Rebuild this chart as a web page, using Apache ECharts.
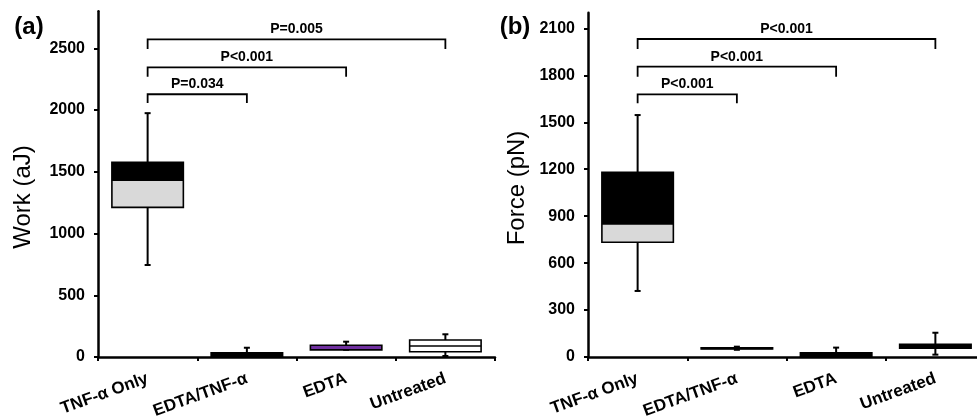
<!DOCTYPE html>
<html>
<head>
<meta charset="utf-8">
<script src="https://cdn.jsdelivr.net/npm/echarts@6/dist/echarts.min.js"></script>
<style>
html,body{margin:0;padding:0;background:#fff;}
#chart{width:977px;height:416px;}
</style>
</head>
<body>
<div id="chart"></div>
<script>
const categories = ['TNF-α Only', 'EDTA/TNF-α', 'EDTA', 'Untreated'];

// Panel (a) Work (aJ): whisker low, Q1, median, Q3, whisker high
const workLow    = [745, 0, 58, 8];
const workQ1     = [1212, 3, 58, 43];
const workMedian = [1431, 10, 77, 89];
const workQ3     = [1577, 35, 95, 138];
const workHigh   = [1975, 75, 124, 184];

// Panel (b) Force (pN)
const forceLow    = [422, 46, 0, 15];
const forceQ1     = [733, 52, 3, 57];
const forceMedian = [850, 55, 15, 70];
const forceQ3     = [1180, 58, 27, 81];
const forceHigh   = [1546, 66, 60, 155];

const workTicks  = [0, 500, 1000, 1500, 2000, 2500];
const forceTicks = [0, 300, 600, 900, 1200, 1500, 1800, 2100];

// Significance brackets: from category, to category, bracket level, leg end, label
const workBracketFrom  = [0, 0, 0];
const workBracketTo    = [1, 2, 3];
const workBracketTop   = [2128, 2346, 2573];
const workBracketLeg   = [2057, 2270, 2495];
const workBracketText  = ['P=0.034', 'P<0.001', 'P=0.005'];

const forceBracketFrom = [0, 0, 0];
const forceBracketTo   = [1, 2, 3];
const forceBracketTop  = [1678, 1855, 2032];
const forceBracketLeg  = [1621, 1791, 1968];
const forceBracketText = ['P<0.001', 'P<0.001', 'P<0.001'];

// Fill colours (upper half = median..Q3, lower half = Q1..median)
const workUpperFill  = ['#000000', '#000000', '#7030a0', '#ffffff'];
const workLowerFill  = ['#d9d9d9', '#000000', '#7030a0', '#ffffff'];
const workMedianLine = ['#000000', '#000000', '#7030a0', '#000000'];
const forceUpperFill = ['#000000', '#000000', '#000000', '#000000'];
const forceLowerFill = ['#d9d9d9', '#000000', '#000000', '#000000'];
const forceMedianLine = ['#000000', '#000000', '#000000', '#000000'];

const FONT = '"Liberation Sans", Arial, sans-serif';

function boxData(lo, q1, md, q3, hi) {
  return categories.map((c, i) => [i, lo[i], q1[i], md[i], q3[i], hi[i]]);
}
function bracketData(from, to, top, leg) {
  return from.map((f, i) => [f, to[i], top[i], leg[i]]);
}

function makeBoxRender(upper, lower, medCol) {
  return function (params, api) {
    const i = api.value(0);
    const pLo = api.coord([i, api.value(1)]);
    const pQ1 = api.coord([i, api.value(2)]);
    const pMd = api.coord([i, api.value(3)]);
    const pQ3 = api.coord([i, api.value(4)]);
    const pHi = api.coord([i, api.value(5)]);
    const bw = api.size([1, 0])[0] * 0.72;
    const cx = pMd[0];
    const x0 = cx - bw / 2;
    const capW = 6;
    const lineStyle = { stroke: '#000', lineWidth: 2, fill: null };
    return {
      type: 'group',
      children: [
        { type: 'line', shape: { x1: cx, y1: pLo[1], x2: cx, y2: pHi[1] }, style: lineStyle },
        { type: 'line', shape: { x1: cx - capW / 2, y1: pLo[1], x2: cx + capW / 2, y2: pLo[1] }, style: lineStyle },
        { type: 'line', shape: { x1: cx - capW / 2, y1: pHi[1], x2: cx + capW / 2, y2: pHi[1] }, style: lineStyle },
        { type: 'rect', shape: { x: x0, y: pMd[1], width: bw, height: pQ1[1] - pMd[1] },
          style: { fill: lower[i], stroke: null } },
        { type: 'rect', shape: { x: x0, y: pQ3[1], width: bw, height: pMd[1] - pQ3[1] },
          style: { fill: upper[i], stroke: null } },
        { type: 'line', shape: { x1: x0, y1: pMd[1], x2: x0 + bw, y2: pMd[1] }, style: { stroke: medCol[i], lineWidth: 1.5 } },
        { type: 'rect', shape: { x: x0, y: pQ3[1], width: bw, height: pQ1[1] - pQ3[1] },
          style: { fill: null, stroke: '#000', lineWidth: 1.6 } }
      ]
    };
  };
}

function makeBracketRender(texts) {
  return function (params, api) {
    const a = api.value(0), b = api.value(1), top = api.value(2), leg = api.value(3);
    const p1 = api.coord([a, leg]);
    const p2 = api.coord([a, top]);
    const p3 = api.coord([b, top]);
    const p4 = api.coord([b, leg]);
    return {
      type: 'group',
      children: [
        { type: 'polyline', shape: { points: [p1, p2, p3, p4] },
          style: { stroke: '#000', lineWidth: 1.8, fill: null } },
        { type: 'text', x: (p2[0] + p3[0]) / 2, y: p2[1] - 3,
          style: { text: texts[params.dataIndex], fill: '#000', font: 'bold 14px ' + FONT,
                   textAlign: 'center', textVerticalAlign: 'bottom' } }
      ]
    };
  };
}

function xAxisCfg(gridIndex) {
  return {
    type: 'category', gridIndex: gridIndex, data: categories,
    axisLine: { lineStyle: { color: '#000', width: 2.5 } },
    axisTick: { show: true, length: 4, lineStyle: { color: '#000', width: 2 } },
    axisLabel: { rotate: 20, margin: 21, color: '#000', fontFamily: FONT, fontWeight: 'bold', fontSize: 17 },
    splitLine: { show: false }
  };
}
function yAxisCfg(gridIndex, max, ticks) {
  return {
    type: 'value', gridIndex: gridIndex, min: 0, max: max,
    axisLine: { show: true, lineStyle: { color: '#000', width: 2.5 } },
    axisTick: { show: true, length: 4, customValues: ticks, lineStyle: { color: '#000', width: 2 } },
    axisLabel: { customValues: ticks, margin: 13, color: '#000', fontFamily: FONT, fontWeight: 'bold', fontSize: 16,
                 formatter: v => String(v) },
    splitLine: { show: false }
  };
}

const chart = echarts.init(document.getElementById('chart'), null, { renderer: 'canvas' });
chart.setOption({
  backgroundColor: '#ffffff',
  animation: false,
  grid: [
    { left: 98, top: 11.3, width: 397, height: 345.7, containLabel: false, outerBoundsMode: 'none' },
    { left: 588, top: 12.7, width: 397, height: 344.3, containLabel: false, outerBoundsMode: 'none' }
  ],
  xAxis: [xAxisCfg(0), xAxisCfg(1)],
  yAxis: [yAxisCfg(0, 2800, workTicks), yAxisCfg(1, 2200, forceTicks)],
  graphic: [
    { type: 'text', x: 29, y: 27, style: { text: '(a)', font: 'bold 24px ' + FONT, fill: '#000', textAlign: 'center', textVerticalAlign: 'middle' } },
    { type: 'text', x: 515, y: 27, style: { text: '(b)', font: 'bold 24px ' + FONT, fill: '#000', textAlign: 'center', textVerticalAlign: 'middle' } },
    { type: 'text', x: 23, y: 197, rotation: Math.PI / 2, style: { text: 'Work (aJ)', font: '24px ' + FONT, fill: '#000', textAlign: 'center', textVerticalAlign: 'middle' } },
    { type: 'text', x: 517, y: 188, rotation: Math.PI / 2, style: { text: 'Force (pN)', font: '24px ' + FONT, fill: '#000', textAlign: 'center', textVerticalAlign: 'middle' } }
  ],
  series: [
    { type: 'custom', xAxisIndex: 0, yAxisIndex: 0, clip: false,
      renderItem: makeBoxRender(workUpperFill, workLowerFill, workMedianLine),
      data: boxData(workLow, workQ1, workMedian, workQ3, workHigh) },
    { type: 'custom', xAxisIndex: 1, yAxisIndex: 1, clip: false,
      renderItem: makeBoxRender(forceUpperFill, forceLowerFill, forceMedianLine),
      data: boxData(forceLow, forceQ1, forceMedian, forceQ3, forceHigh) },
    { type: 'custom', xAxisIndex: 0, yAxisIndex: 0, clip: false,
      renderItem: makeBracketRender(workBracketText),
      data: bracketData(workBracketFrom, workBracketTo, workBracketTop, workBracketLeg) },
    { type: 'custom', xAxisIndex: 1, yAxisIndex: 1, clip: false,
      renderItem: makeBracketRender(forceBracketText),
      data: bracketData(forceBracketFrom, forceBracketTo, forceBracketTop, forceBracketLeg) }
  ]
});
</script>
</body>
</html>
